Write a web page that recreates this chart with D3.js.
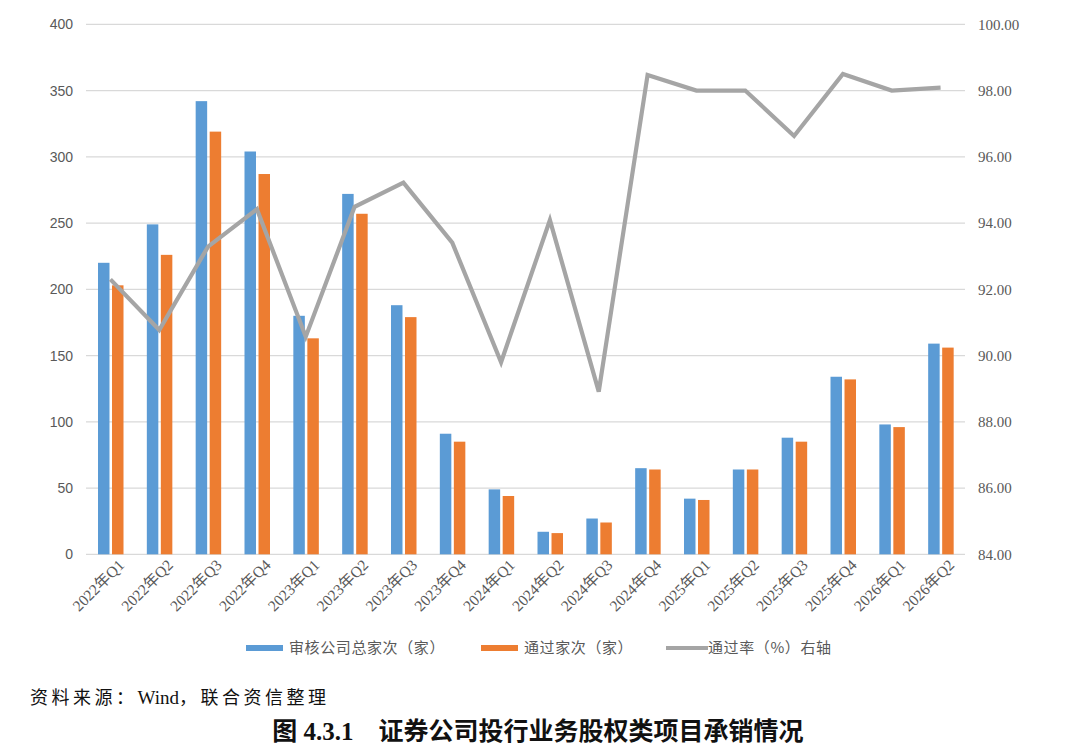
<!DOCTYPE html>
<html>
<head>
<meta charset="utf-8">
<script src="https://cdn.jsdelivr.net/npm/d3@7"></script>
<style>
    body { margin: 0; background: #fff; }
    svg { display: block; }
</style>
</head>
<body>
<svg id="chart" width="1080" height="751"></svg>
<script>
// Chart data
const quarters = ["2022年Q1", "2022年Q2", "2022年Q3", "2022年Q4", "2023年Q1", "2023年Q2", "2023年Q3", "2023年Q4",
    "2024年Q1", "2024年Q2", "2024年Q3", "2024年Q4", "2025年Q1", "2025年Q2", "2025年Q3", "2025年Q4", "2026年Q1", "2026年Q2"];
const reviewed = [220, 249, 342, 304, 180, 272, 188, 91, 49, 17, 27, 65, 42, 64, 88, 134, 98, 159];
const approved = [203, 226, 319, 287, 163, 257, 179, 85, 44, 16, 24, 64, 41, 64, 85, 132, 96, 156];
const passRate = [92.30, 90.77, 93.29, 94.42, 90.57, 94.49, 95.22, 93.41, 89.80, 94.09, 88.91, 98.47, 98.00, 98.00, 96.63, 98.50, 98.00, 98.09];
const leftTicks = [0, 50, 100, 150, 200, 250, 300, 350, 400];
const rightTicks = [84, 86, 88, 90, 92, 94, 96, 98, 100];
const seriesNames = ["审核公司总家次（家）", "通过家次（家）", "通过率（%）右轴"];

const svg = d3.select("#chart");
const margin = { top: 24.3, right: 115, bottom: 196.7, left: 86 };
const width = +svg.attr("width") - margin.left - margin.right;
const height = +svg.attr("height") - margin.top - margin.bottom;

const g = svg.append("g")
    .attr("transform", `translate(${margin.left},${margin.top})`);

// Scales
const x = d3.scaleBand()
    .domain(quarters)
    .range([0, width]);

const xInner = d3.scaleBand()
    .domain(["reviewed", "approved"])
    .range([12, 37.5])
    .paddingInner(0.18);

const y = d3.scaleLinear()
    .domain([0, 400])
    .range([height, 0]);

const yRight = d3.scaleLinear()
    .domain([84, 100])
    .range([height, 0]);

// Gridlines
g.append("g")
    .selectAll("line")
    .data(leftTicks)
    .enter()
    .append("line")
    .attr("x1", 0)
    .attr("x2", width)
    .attr("y1", d => y(d))
    .attr("y2", d => y(d))
    .attr("stroke", "#d9d9d9")
    .attr("stroke-width", 1.2);

// Left axis
const leftAxis = g.append("g")
    .call(d3.axisLeft(y).tickValues(leftTicks).tickSize(0).tickPadding(13));
leftAxis.select(".domain").remove();
leftAxis.selectAll("text")
    .attr("fill", "#595959")
    .style("font-family", "'Liberation Sans', Arial, sans-serif")
    .style("font-size", "14px");

// Right axis
const rightAxis = g.append("g")
    .attr("transform", `translate(${width},0)`)
    .call(d3.axisRight(yRight).tickValues(rightTicks).tickSize(0).tickPadding(13).tickFormat(d3.format(".2f")));
rightAxis.select(".domain").remove();
rightAxis.selectAll("text")
    .attr("fill", "#595959")
    .style("font-family", "'Liberation Serif', 'Times New Roman', serif")
    .style("font-size", "15px");

// Bottom axis labels
const bottomAxis = g.append("g")
    .attr("transform", `translate(0,${height})`)
    .call(d3.axisBottom(x).tickSize(0).tickPadding(12));
bottomAxis.select(".domain").remove();
bottomAxis.selectAll("text")
    .attr("fill", "#595959")
    .style("font-family", "'Liberation Serif', 'Noto Sans CJK SC', serif")
    .style("font-size", "15.5px")
    .attr("transform", "translate(3,0) rotate(-45)")
    .attr("dy", "0.3em")
    .style("text-anchor", "end");

// Bars
const groups = g.selectAll(".group")
    .data(quarters)
    .enter()
    .append("g")
    .attr("class", "group")
    .attr("transform", d => `translate(${x(d)},0)`);

groups.append("rect")
    .attr("x", xInner("reviewed"))
    .attr("y", (d, i) => y(reviewed[i]))
    .attr("width", xInner.bandwidth())
    .attr("height", (d, i) => height - y(reviewed[i]))
    .attr("fill", "#5b9bd5");

groups.append("rect")
    .attr("x", xInner("approved"))
    .attr("y", (d, i) => y(approved[i]))
    .attr("width", xInner.bandwidth())
    .attr("height", (d, i) => height - y(approved[i]))
    .attr("fill", "#ed7d31");

// Pass rate line (right axis)
const line = d3.line()
    .x((d, i) => x(quarters[i]) + x.bandwidth() / 2)
    .y(d => yRight(d));

g.append("path")
    .datum(passRate)
    .attr("d", line)
    .attr("fill", "none")
    .attr("stroke", "#a5a5a5")
    .attr("stroke-width", 4.2)
    .attr("stroke-linejoin", "miter");

// Legend
const legendY = 648;
const legend = svg.append("g")
    .style("font-family", "'Noto Sans CJK SC', sans-serif")
    .style("font-size", "15px")
    .attr("fill", "#595959");

legend.append("rect").attr("x", 246).attr("y", legendY - 3).attr("width", 37).attr("height", 6).attr("fill", "#5b9bd5");
legend.append("text").attr("x", 289).attr("y", legendY + 5).attr("letter-spacing", 0.6).text(seriesNames[0]);
legend.append("rect").attr("x", 481).attr("y", legendY - 3).attr("width", 37).attr("height", 6).attr("fill", "#ed7d31");
legend.append("text").attr("x", 524).attr("y", legendY + 5).attr("letter-spacing", 0.6).text(seriesNames[1]);
legend.append("line").attr("x1", 666).attr("x2", 708).attr("y1", legendY).attr("y2", legendY)
    .attr("stroke", "#a5a5a5").attr("stroke-width", 4.2);
legend.append("text").attr("x", 708).attr("y", legendY + 5).attr("letter-spacing", 0.6).text(seriesNames[2]);

// Source note (Chinese spaced out, "Wind" kept tight)
const source = svg.append("text")
    .attr("x", 30)
    .attr("y", 704)
    .style("font-family", "'Liberation Serif', 'Noto Sans CJK SC', serif")
    .style("font-size", "18px")
    .attr("fill", "#111");
source.append("tspan").attr("letter-spacing", 3.5).text("资料来源：");
source.append("tspan").style("font-size", "19px").text("Wind");
source.append("tspan").attr("letter-spacing", 3.5).text("，联合资信整理");

// Figure title
svg.append("text")
    .attr("x", 538)
    .attr("y", 740)
    .attr("text-anchor", "middle")
    .style("font-family", "'Liberation Serif', 'Noto Sans CJK SC', serif")
    .style("font-size", "25px")
    .style("font-weight", "bold")
    .attr("fill", "#111")
    .attr("xml:space", "preserve")
    .text("图 4.3.1    证券公司投行业务股权类项目承销情况");
</script>
</body>
</html>
